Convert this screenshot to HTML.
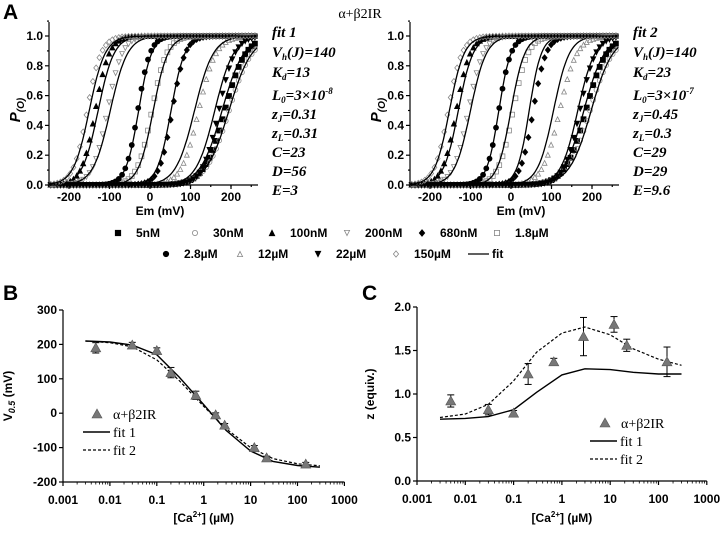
<!DOCTYPE html>
<html><head><meta charset="utf-8"><style>
body{margin:0;background:#fff}
svg{display:block;font-family:"Liberation Sans",sans-serif}
.tk{font-weight:bold;font-size:12px}
.pm{font-family:"Liberation Serif",serif;font-weight:bold;font-style:italic;font-size:15px}
.sr{font-family:"Liberation Serif",serif;font-size:14px}
</style></head><body>
<svg id="fig" width="720" height="537" viewBox="0 0 720 537" xmlns="http://www.w3.org/2000/svg">
<text x="360" y="18" text-anchor="middle" class="sr" font-size="17">α+β2IR</text>
<text x="3" y="19" font-size="21" font-weight="bold">A</text>
<text x="3" y="300" font-size="21" font-weight="bold">B</text>
<text x="362" y="300" font-size="21" font-weight="bold">C</text>
<g id="legendA"></g>
</svg>
<script>
// Panel A data
const concLabels=["5nM","30nM","100nM","200nM","680nM","1.8µM","2.8µM","12µM","22µM","150µM"];
const markerTypes=["sqF","circO","triF","tridO","diaF","sqO","circF","triO","tridF","diaO"];
const dataVhalf=[185,195,-135,-105,55,5,-30,120,170,-155];
const dataZ=[1.0,0.9,1.5,1.4,1.6,1.4,1.7,1.2,1.3,1.5];
const fit1Vhalf=[178,195,-128,-98,52,8,-28,110,160,-150];
const fit1Z=[0.95,0.9,1.3,1.2,1.5,1.4,1.6,1.1,1.1,1.3];
const fit2Vhalf=[180,198,-130,-100,45,0,-30,105,165,-152];
const fit2Z=[1.0,0.95,1.4,1.3,1.7,1.5,1.7,1.3,1.2,1.4];
const fit1Params=["fit 1","V_h(J)=140","K_d=13","L_0=3×10^-8","z_J=0.31","z_L=0.31","C=23","D=56","E=3"];
const fit2Params=["fit 2","V_h(J)=140","K_d=23","L_0=3×10^-7","z_J=0.45","z_L=0.3","C=29","D=29","E=9.6"];
// Panel B data
const caConc=[0.005,0.03,0.1,0.2,0.68,1.8,2.8,12,22,150];
const v05=[190,198,182,118,52,-5,-35,-100,-130,-148];
const v05Err=[15,8,8,15,12,6,5,6,5,5];
const fitConc=[0.003,0.01,0.03,0.1,0.3,1,3,10,30,100,300];
const bFit1=[210,207,198,170,105,25,-50,-110,-140,-152,-157];
const bFit2=[210,205,193,155,95,20,-45,-100,-132,-147,-153];
// Panel C data
const zConc=[0.005,0.03,0.1,0.2,0.68,2.8,12,22,150];
const zVal=[0.92,0.82,0.78,1.23,1.37,1.66,1.80,1.56,1.37];
const zErr=[0.07,0.06,0.03,0.12,0.04,0.22,0.09,0.07,0.17];
const cFit1=[0.71,0.72,0.74,0.82,1.02,1.22,1.29,1.28,1.25,1.23,1.23];
const cFit2=[0.73,0.77,0.88,1.15,1.48,1.70,1.77,1.68,1.52,1.40,1.33];
const aXTicks=[-200,-100,0,100,200];
const aYTicks=[0,0.2,0.4,0.6,0.8,1.0];
const bYTicks=[-200,-100,0,100,200,300];
const cYTicks=[0,0.5,1.0,1.5,2.0];
const logTicks=[0.001,0.01,0.1,1,10,100,1000];

const NS="http://www.w3.org/2000/svg";
const svg=document.getElementById('fig');
function mk(tag,attrs,parent){const e=document.createElementNS(NS,tag);for(const k in attrs)e.setAttribute(k,attrs[k]);(parent||svg).appendChild(e);return e;}
function line(x1,y1,x2,y2,p,w){return mk('line',{x1,y1,x2,y2,stroke:'#000','stroke-width':w||1.2},p);}
function marker(type,x,y,s,p,col){
  const f=type.endsWith('F'),c=col||(f?'#000':'#888');
  const st=f?{fill:c,stroke:c}:{fill:'none',stroke:c,'stroke-width':0.8};
  let e;
  if(type.startsWith('sq'))e=mk('rect',Object.assign({x:x-s,y:y-s,width:2*s,height:2*s},st),p);
  else if(type.startsWith('circ'))e=mk('circle',Object.assign({cx:x,cy:y,r:s},st),p);
  else if(type.startsWith('tridO')||type.startsWith('tridF'))e=mk('polygon',Object.assign({points:`${x-s},${y-s} ${x+s},${y-s} ${x},${y+s}`},st),p);
  else if(type.startsWith('tri'))e=mk('polygon',Object.assign({points:`${x-s},${y+s} ${x+s},${y+s} ${x},${y-s}`},st),p);
  else e=mk('polygon',Object.assign({points:`${x},${y-s*1.2} ${x+s},${y} ${x},${y+s*1.2} ${x-s},${y}`},st),p);
  return e;
}
function boltz(v,vh,z){return 1/(1+Math.exp(-z*(v-vh)/25.4));}

// ---------- Panel A ----------
function panelA(ox,fitV,fitZ,params,name){
  const g=mk('g',{});
  
  
  const x0=ox+49,x1=ox+258,yTop=36,yBot=185;
  const sx=v=>ox+150+v*0.405, sy=p=>yBot-p*(yBot-yTop);
  for(let i=0;i<concLabels.length;i++){
    const sg=mk('g',{},g);
    
    
    for(let v=-245;v<=265;v+=8){
      marker(markerTypes[i],sx(v),sy(boltz(v,dataVhalf[i],dataZ[i])),2.4,sg);
    }
    let d='';
    for(let v=-245;v<=267;v+=3){d+=(d?'L':'M')+sx(v).toFixed(1)+','+sy(boltz(v,fitV[i],fitZ[i])).toFixed(1);}
    const pth=mk('path',{d,fill:'none',stroke:'#000','stroke-width':1.3},sg);
    
    
  }
  line(x0,yTop-14,x0,yBot,g);line(x0,yBot,x1,yBot,g);
  for(const t of aXTicks){line(sx(t),yBot,sx(t),yBot+4,g);
    const tx=mk('text',{x:sx(t),y:yBot+16,'text-anchor':'middle',class:'tk'},g);tx.textContent=t;}
  for(let t=-250;t<=250;t+=50)line(sx(t),yBot,sx(t),yBot+2,g);
  for(const t of aYTicks){line(x0-4,sy(t),x0,sy(t),g);
    const tx=mk('text',{x:x0-6,y:sy(t)+4,'text-anchor':'end',class:'tk'},g);tx.textContent=t.toFixed(1);}
  for(let t=0.1;t<1.1;t+=0.2)line(x0-2,sy(t),x0,sy(t),g);
  const xl=mk('text',{x:ox+160,y:215,'text-anchor':'middle',class:'tk',"font-size":13},g);
  xl.textContent='Em (mV)';
  const yl=mk('text',{transform:`translate(${ox+20},110) rotate(-90)`,'text-anchor':'middle','font-weight':'bold','font-style':'italic','font-size':15},g);
  
  yl.innerHTML='P<tspan font-size="10" dy="4">(O)</tspan>';
  const ys=[37,57,77,100,119,138,157,176,195];
  params.forEach((p,i)=>{
    const t=mk('text',{x:ox+272,y:ys[i],class:'pm'},g);
    
    const m=p.match(/^(\w)_(\w)(.*)$/);
    if(m){
      let rest=m[3];
      let sup='';const sm=rest.match(/\^(.*)$/);if(sm){sup=sm[1];rest=rest.replace(/\^.*$/,'');}
      t.innerHTML=`${m[1]}<tspan font-size="9" dy="3">${m[2]}</tspan><tspan dy="-3">${rest}</tspan>`+(sup?`<tspan font-size="9" dy="-6">${sup}</tspan>`:'');
    } else t.textContent=p;
  });
}
panelA(0,fit1Vhalf,fit1Z,fit1Params,'panel-a-fit1');
panelA(361,fit2Vhalf,fit2Z,fit2Params,'panel-a-fit2');

// legend A
const lg=document.getElementById('legendA');
const legPos=[[118,237],[195,237],[272,237],[347,237],[422,237],[497,237],[166,258],[240,258],[318,258],[396,258]];
concLabels.forEach((l,i)=>{
  const it=mk('g',{},lg);
  
  
  marker(markerTypes[i],legPos[i][0],legPos[i][1]-4,2.6,it);
  const t=mk('text',{x:legPos[i][0]+18,y:legPos[i][1],class:'tk','font-size':13},it);t.textContent=l;
});
{const it=mk('g',{},lg);
line(468,254,489,254,it);const t=mk('text',{x:492,y:258,class:'tk','font-size':13},it);t.textContent='fit';}

// ---------- log panels ----------
function logPanel(o){
  const g=mk('g',{});
  
  
  const sx=c=>o.x0+(Math.log10(c)+3)*o.dec, sy=v=>o.yBot-(v-o.ymin)/(o.ymax-o.ymin)*(o.yBot-o.yTop);
  line(o.x0,o.yTop,o.x0,o.yBot,g);line(o.x0,o.yBot,o.x0+6*o.dec,o.yBot,g);
  for(const t of logTicks){line(sx(t),o.yBot,sx(t),o.yBot+4,g);
    const tx=mk('text',{x:sx(t),y:o.yBot+22,'text-anchor':'middle',class:'tk'},g);tx.textContent=t;}
  for(let d=-3;d<3;d++)for(let k=2;k<10;k++){const c=k*Math.pow(10,d);line(sx(c),o.yBot,sx(c),o.yBot+2.5,g,0.8);}
  for(const t of o.yTicks){line(o.x0-4,sy(t),o.x0,sy(t),g);
    const tx=mk('text',{x:o.x0-6,y:sy(t)+4,'text-anchor':'end',class:'tk'},g);tx.textContent=o.fmt(t);}
  const xl=mk('text',{x:o.x0+3*o.dec,y:522,'text-anchor':'middle',class:'tk','font-size':13},g);
  
  xl.innerHTML='[Ca<tspan font-size="8" dy="-5">2+</tspan><tspan dy="5">] (µM)</tspan>';
  const yl=mk('text',{transform:`translate(${o.ylx},${(o.yTop+o.yBot)/2}) rotate(-90)`,'text-anchor':'middle',class:'tk','font-size':13},g);
  
  yl.innerHTML=o.ylab;
  const f1=mk('path',{d:o.fit1.map((v,i)=>(i?'L':'M')+sx(fitConc[i]).toFixed(1)+','+sy(v).toFixed(1)).join(''),fill:'none',stroke:'#000','stroke-width':1.4},g);
  
  const f2=mk('path',{d:o.fit2.map((v,i)=>(i?'L':'M')+sx(fitConc[i]).toFixed(1)+','+sy(v).toFixed(1)).join(''),fill:'none',stroke:'#000','stroke-width':1.2,'stroke-dasharray':'3,2'},g);
  
  o.cx.forEach((c,i)=>{
    const x=sx(c),y=sy(o.vals[i]),e1=sy(o.vals[i]+o.err[i]),e2=sy(o.vals[i]-o.err[i]);
    const pg=mk('g',{},g);
    
    
    line(x,e1,x,e2,pg,1);line(x-3.5,e1,x+3.5,e1,pg,1);line(x-3.5,e2,x+3.5,e2,pg,1);
    mk('polygon',{points:`${x-5},${y+4} ${x+5},${y+4} ${x},${y-5}`,fill:'#777',stroke:'#555','stroke-width':0.6},pg);
  });
  const L=o.leg, lgG=mk('g',{},g);
  
  mk('polygon',{points:`${L[0]-5},${L[1]+4} ${L[0]+5},${L[1]+4} ${L[0]},${L[1]-5}`,fill:'#777',stroke:'#555','stroke-width':0.6},lgG);
  let t=mk('text',{x:L[0]+16,y:L[1]+5,class:'sr'},lgG);t.textContent='α+β2IR';
  line(L[2],L[1]+18,L[2]+27,L[1]+18,lgG,1.4);
  t=mk('text',{x:L[2]+30,y:L[1]+23,class:'sr'},lgG);t.textContent='fit 1';
  mk('line',{x1:L[2],y1:L[1]+36,x2:L[2]+27,y2:L[1]+36,stroke:'#000','stroke-width':1.2,'stroke-dasharray':'3,2'},lgG);
  t=mk('text',{x:L[2]+30,y:L[1]+41,class:'sr'},lgG);t.textContent='fit 2';
}
logPanel({name:'panel-b',x0:63,dec:46.9,yTop:310,yBot:482,ymin:-200,ymax:300,yTicks:bYTicks,fmt:t=>t,
  ylab:'V<tspan font-size="9" font-style="italic" dy="3">0.5</tspan><tspan dy="-3"> (mV)</tspan>',ylx:12,
  fit1:bFit1,fit2:bFit2,cx:caConc,vals:v05,err:v05Err,leg:[97,414,83]});
logPanel({name:'panel-c',x0:417,dec:48.3,yTop:307,yBot:481,ymin:0,ymax:2.0,yTicks:cYTicks,fmt:t=>t.toFixed(1),
  ylab:'z (equiv.)',ylx:374,
  fit1:cFit1,fit2:cFit2,cx:zConc,vals:zVal,err:zErr,leg:[605,423,590]});
</script>
</body></html>
